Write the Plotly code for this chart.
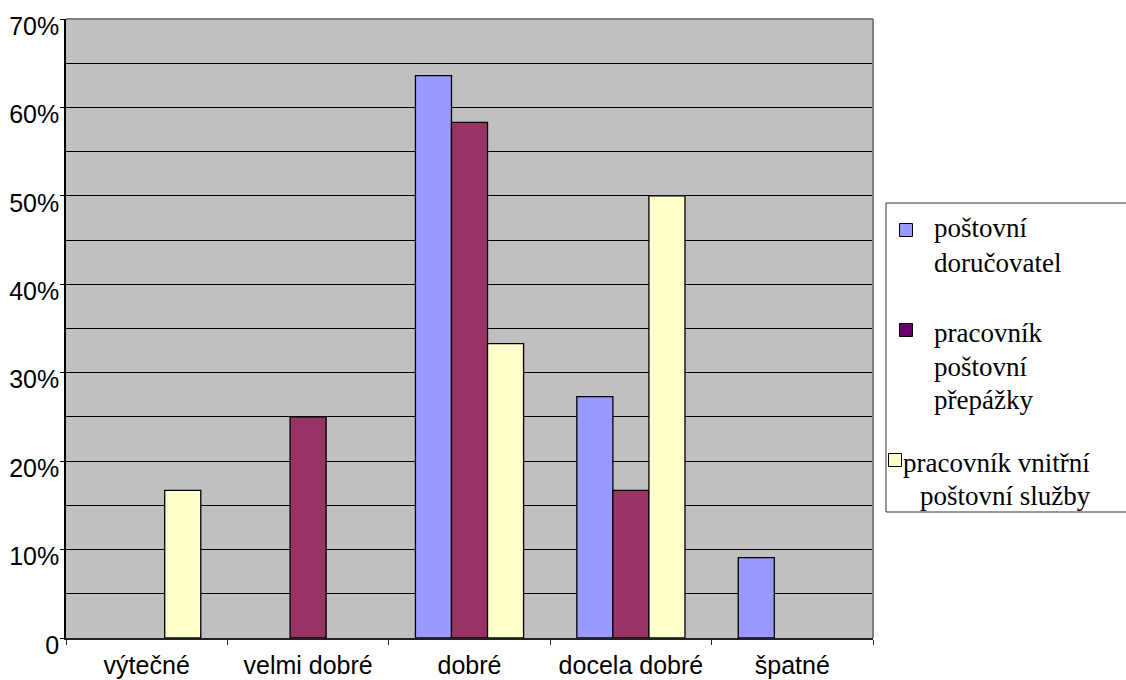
import plotly.graph_objects as go

# Hodnocení pracovníků pošty (podíl odpovědí v %)
categories = ["výtečné", "velmi dobré", "dobré", "docela dobré", "špatné"]
series_names = ["poštovní doručovatel", "pracovník poštovní přepážky",
                "pracovník vnitřní poštovní služby"]
dorucovatel = [None, None, 63.6, 27.3, 9.1]
prepazka = [None, 25.0, 58.3, 16.7, None]
vnitrni = [16.7, None, 33.3, 50.0, None]
y_tickvals = [0, 10, 20, 30, 40, 50, 60, 70]
y_ticktext = ["0", "10%", "20%", "30%", "40%", "50%", "60%", "70%"]

bar_colors = ["#9999FF", "#993366", "#FFFFCC"]
swatch_colors = ["#9999FF", "#660066", "#FFFFCC"]

W, H = 1126, 680
L, R, T, B = 66, 873, 19, 638


def px(x):
    return (x - L) / (R - L)


def py(y):
    return (B - y) / (B - T)


fig = go.Figure()
for name, vals, col in zip(series_names, [dorucovatel, prepazka, vnitrni], bar_colors):
    fig.add_trace(go.Bar(
        x=categories, y=vals, name=name,
        marker=dict(color=col, line=dict(color="#000000", width=1.3)),
        showlegend=False,
    ))

axis_font = dict(family="Liberation Sans, Arial, sans-serif", size=25, color="#000000")

fig.update_layout(
    width=W, height=H,
    margin=dict(l=L, r=W - R, t=T, b=H - B, pad=0, autoexpand=False),
    paper_bgcolor="#FFFFFF",
    plot_bgcolor="#C0C0C0",
    barmode="group",
    bargap=0.33,
    bargroupgap=0,
    xaxis=dict(
        type="category",
        automargin=False,
        showline=True, linecolor="#222222", linewidth=1.5,
        ticks="outside", tickson="boundaries", ticklen=5,
        tickcolor="#222222", tickwidth=1,
        tickfont=axis_font,
        ticklabelstandoff=4,
        showgrid=False,
    ),
    yaxis=dict(
        automargin=False,
        range=[0, 70],
        tickvals=y_tickvals, ticktext=y_ticktext,
        showline=True, linecolor="#000000", linewidth=1.5,
        ticks="outside", ticklen=4, tickcolor="#000000",
        tickfont=axis_font,
        ticklabelshift=7,
        ticklabelstandoff=-4,
        showgrid=True, gridcolor="#000000", gridwidth=1,
        minor=dict(dtick=5, showgrid=True, gridcolor="#000000", gridwidth=1, ticks=""),
        zeroline=False,
    ),
)

# šedé orámování plochy grafu (horní a pravá hrana)
fig.add_shape(type="line", xref="paper", yref="paper", x0=0, x1=1, y0=1, y1=1,
              line=dict(color="#808080", width=2), layer="above")
fig.add_shape(type="line", xref="paper", yref="paper", x0=1, x1=1, y0=0, y1=1,
              line=dict(color="#808080", width=2), layer="above")

# legenda
fig.add_shape(type="rect", xref="paper", yref="paper",
              x0=px(886), x1=px(1135), y0=py(512), y1=py(203),
              line=dict(color="#333333", width=1), fillcolor="#FFFFFF", layer="above")

legend_font = dict(family="serif", size=27, color="#000000")
swatches = [(906, 230), (906, 330), (895, 460)]
for (cx, cy), col in zip(swatches, swatch_colors):
    fig.add_shape(type="rect", xref="paper", yref="paper",
                  x0=px(cx - 6.5), x1=px(cx + 6.5), y0=py(cy + 6.5), y1=py(cy - 6.5),
                  line=dict(color="#000000", width=1), fillcolor=col, layer="above")

legend_lines = [
    ("poštovní", 932, 228), ("doručovatel", 932, 263),
    ("pracovník", 932, 333), ("poštovní", 932, 367), ("přepážky", 932, 400),
    ("pracovník vnitřní", 901, 463), ("poštovní služby", 918, 496),
]
for text, lx, ly in legend_lines:
    fig.add_annotation(text=text, xref="paper", yref="paper",
                       x=px(lx), y=py(ly), xanchor="left", yanchor="middle",
                       showarrow=False, font=legend_font)

fig.write_html("out.html")
